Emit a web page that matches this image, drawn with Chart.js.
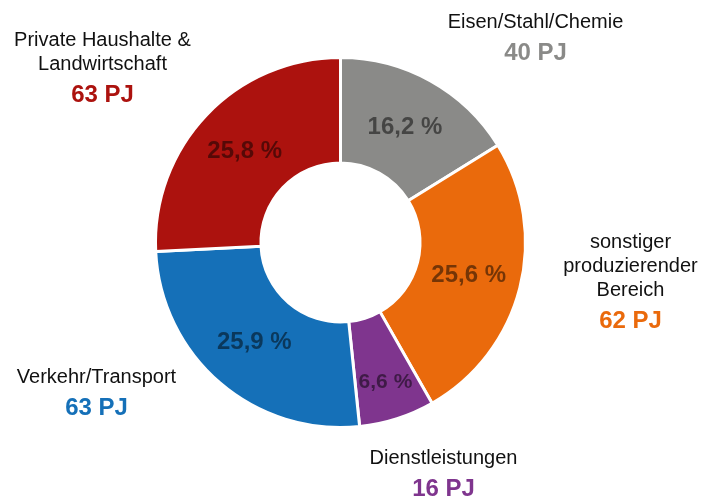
<!DOCTYPE html>
<html>
<head>
<meta charset="utf-8">
<script src="https://cdn.jsdelivr.net/npm/chart.js@4.4.0/dist/chart.umd.min.js"></script>
<style>
  html, body { margin: 0; padding: 0; background: #fff; }
  #wrap { width: 703px; height: 497px; }
</style>
</head>
<body>
<div id="wrap"><canvas id="grafico1" width="703" height="497"></canvas></div>
<script>
// Daten: Energieverbrauch nach Sektoren
var sektoren = ['Eisen/Stahl/Chemie', 'sonstiger\nproduzierender\nBereich', 'Dienstleistungen', 'Verkehr/Transport', 'Private Haushalte &\nLandwirtschaft'];
var anteile = [16.2, 25.6, 6.6, 25.9, 25.8];   // Prozent
var energiePJ = [40, 62, 16, 63, 63];           // PJ
var farben = ['#8a8a88', '#ea6a0c', '#7f358e', '#1570b8', '#ac120e'];

// Position der Beschriftungen relativ zur Mitte (dx, dy der ersten Grundlinie)
var beschriftungPos = [[195, -215], [290, 5], [103, 221], [-244, 140], [-238, -197]];
var prozentRadius = [0.5, 0.5, 0.64, 0.5, 0.5];
var prozentSchrift = [24, 24, 21, 24, 24];

var etiketten = {
    id: 'etiketten',
    afterDatasetsDraw: function(chart) {
        var c = chart.ctx;
        var meta = chart.getDatasetMeta(0);
        c.save();
        c.textAlign = 'center';
        meta.data.forEach(function(arc, i) {
            var p = arc.getProps(['x', 'y', 'startAngle', 'endAngle', 'innerRadius', 'outerRadius'], true);
            var mitte = (p.startAngle + p.endAngle) / 2;
            var r = p.innerRadius + (p.outerRadius - p.innerRadius) * prozentRadius[i];
            // Prozentwert im Segment
            c.font = 'bold ' + prozentSchrift[i] + 'px "Liberation Sans", Arial, sans-serif';
            c.fillStyle = 'rgba(0,0,0,0.5)';
            c.textBaseline = 'middle';
            c.fillText(anteile[i].toFixed(1).replace('.', ',') + ' %', p.x + Math.cos(mitte) * r, p.y + Math.sin(mitte) * r);
            // Bezeichnung außen
            c.textBaseline = 'alphabetic';
            var bx = p.x + beschriftungPos[i][0];
            var by = p.y + beschriftungPos[i][1];
            var zeilen = sektoren[i].split('\n');
            c.font = '20px "Liberation Sans", Arial, sans-serif';
            c.fillStyle = '#111';
            zeilen.forEach(function(z, k) {
                c.fillText(z, bx, by + k * 24);
            });
            c.font = 'bold 24px "Liberation Sans", Arial, sans-serif';
            c.fillStyle = farben[i];
            c.fillText(energiePJ[i] + ' PJ', bx, by + (zeilen.length - 1) * 24 + 32);
        });
        c.restore();
    }
};

var ctx = document.getElementById('grafico1').getContext('2d');
var grafico1 = new Chart(ctx, {
    type: 'doughnut',
    data: {
        labels: sektoren,
        datasets: [{
            data: anteile,
            backgroundColor: farben,
            borderColor: '#ffffff',
            borderWidth: 3
        }]
    },
    options: {
        responsive: false,
        animation: false,
        cutout: '43%',
        layout: { padding: { left: 154, right: 176, top: 56, bottom: 68 } },
        plugins: {
            legend: { display: false },
            tooltip: { enabled: false }
        }
    },
    plugins: [etiketten]
});
</script>
</body>
</html>
